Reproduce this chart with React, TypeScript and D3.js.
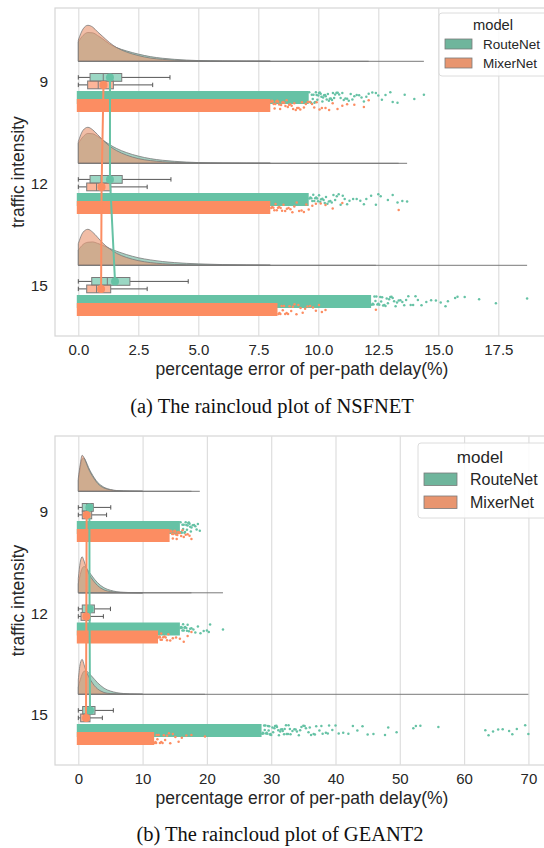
import React from "react";
import * as d3 from "d3";

// -- DATA --
const categories = ["9", "12", "15"];
const models = ["RouteNet", "MixerNet"];
const fullColors = ["#66c2a5", "#fc8d62"];
const softColors = ["#6fb59c", "#e8956f"];

// NSFNET
const nsfTicks = [0, 2.5, 5, 7.5, 10, 12.5, 15, 17.5];
const nsfGrid = [0, 0.2, 0.4, 0.6, 0.8, 1.0, 1.3, 1.6, 2.0, 2.5, 3.0, 3.5, 4.0, 5.0, 6.0, 7.0, 8.0];
const nsfCloudRoute = [
  [0.54, 0.72, 0.8, 0.79, 0.72, 0.63, 0.48, 0.38, 0.29, 0.2, 0.13, 0.085, 0.055, 0.02, 0.008, 0.002, 0],
  [0.55, 0.74, 0.83, 0.82, 0.75, 0.66, 0.52, 0.41, 0.3, 0.2, 0.13, 0.085, 0.055, 0.02, 0.008, 0.002, 0],
  [0.42, 0.58, 0.64, 0.65, 0.61, 0.56, 0.47, 0.39, 0.3, 0.21, 0.15, 0.105, 0.075, 0.04, 0.02, 0.01, 0],
];
const nsfCloudMixer = [
  [0.59, 0.9, 1.0, 0.95, 0.82, 0.7, 0.52, 0.38, 0.26, 0.16, 0.09, 0.055, 0.03, 0.01, 0.004, 0.001, 0],
  [0.6, 0.92, 1.0, 0.93, 0.8, 0.66, 0.48, 0.35, 0.23, 0.13, 0.075, 0.045, 0.025, 0.008, 0.003, 0.001, 0],
  [0.6, 0.92, 1.0, 0.92, 0.78, 0.63, 0.46, 0.33, 0.22, 0.13, 0.075, 0.045, 0.025, 0.008, 0.003, 0.001, 0],
];
// [min, q1, median, q3, max]
const nsfBoxRoute = [
  [0, 0.49, 1.04, 1.81, 3.82],
  [0, 0.49, 0.95, 1.83, 3.86],
  [0, 0.56, 1.21, 2.15, 4.58],
];
const nsfBoxMixer = [
  [0, 0.39, 0.83, 1.46, 3.1],
  [0, 0.35, 0.76, 1.35, 2.87],
  [0, 0.35, 0.76, 1.35, 2.87],
];
const nsfMeanRoute = [1.32, 1.32, 1.53];
const nsfMeanMixer = [1.05, 0.97, 0.95];
const nsfDenseRoute = [9.6, 9.6, 12.2];
const nsfDenseMixer = [8.0, 8.0, 8.3];
const nsfRainRoute = [
  [9.62, 9.66, 9.7, 9.73, 9.77, 9.8, 9.84, 9.87, 9.9, 9.93, 9.96, 10.0, 10.03, 10.06, 10.1, 10.13, 10.17, 10.2, 10.24, 10.28, 10.31, 10.35, 10.4, 10.44, 10.48, 10.52, 10.57, 10.61, 10.66, 10.7, 10.76, 10.81, 10.87, 10.93, 11.0, 11.06, 11.13, 11.2, 11.27, 11.35, 11.42, 11.5, 11.6, 11.7, 11.8, 11.9, 12.0, 12.1, 12.25, 12.4, 12.5, 12.65, 12.8, 13.0, 13.1, 13.3, 13.6, 14.0, 14.4],
  [9.63, 9.67, 9.71, 9.75, 9.79, 9.83, 9.87, 9.91, 9.95, 9.99, 10.03, 10.08, 10.12, 10.17, 10.22, 10.27, 10.32, 10.38, 10.44, 10.5, 10.56, 10.63, 10.7, 10.77, 10.85, 10.93, 11.02, 11.1, 11.2, 11.3, 11.45, 11.6, 11.75, 11.9, 12.0, 12.2, 12.4, 12.5, 12.6, 12.9, 13.1, 13.3, 13.5, 13.7],
  [12.23, 12.27, 12.3, 12.34, 12.38, 12.42, 12.46, 12.5, 12.54, 12.58, 12.62, 12.66, 12.7, 12.75, 12.8, 12.85, 12.9, 12.95, 13.0, 13.05, 13.1, 13.16, 13.22, 13.28, 13.35, 13.42, 13.5, 13.58, 13.66, 13.75, 13.85, 13.95, 14.05, 14.15, 14.3, 14.5, 14.7, 14.9, 15.1, 15.3, 15.4, 15.7, 15.8, 16.1, 16.7, 17.4, 18.7],
];
const nsfRainMixer = [
  [8.03, 8.07, 8.1, 8.14, 8.18, 8.21, 8.25, 8.29, 8.33, 8.37, 8.41, 8.45, 8.5, 8.54, 8.58, 8.63, 8.68, 8.73, 8.78, 8.83, 8.89, 8.95, 9.0, 9.06, 9.12, 9.18, 9.25, 9.32, 9.4, 9.48, 9.56, 9.65, 9.74, 9.83, 9.93, 10.05, 10.15, 10.3, 10.45, 10.6, 10.8, 11.0, 11.2, 11.5, 11.9, 12.1],
  [8.04, 8.08, 8.13, 8.17, 8.22, 8.27, 8.32, 8.37, 8.43, 8.49, 8.55, 8.62, 8.69, 8.76, 8.84, 8.92, 9.0, 9.1, 9.2, 9.3, 9.4, 9.5, 9.6, 9.75, 9.9, 10.1, 10.3, 10.6, 11.0, 13.35],
  [8.34, 8.38, 8.42, 8.47, 8.52, 8.57, 8.62, 8.68, 8.74, 8.8, 8.87, 8.94, 9.01, 9.09, 9.17, 9.26, 9.35, 9.45, 9.55, 9.66, 9.78, 9.9, 10.03, 10.15, 10.3, 12.4],
];

// GEANT2
const geaTicks = [0, 10, 20, 30, 40, 50, 60, 70];
const geaGrid = [0, 0.3, 0.6, 0.9, 1.2, 1.6, 2.0, 2.5, 3.0, 3.5, 4.0, 5.0, 6.0, 7.0, 8.0, 10.0];
const geaCloudRoute = [
  [0.3, 0.65, 0.9, 0.92, 0.83, 0.66, 0.52, 0.37, 0.25, 0.17, 0.11, 0.05, 0.02, 0.01, 0.004, 0],
  [0.25, 0.5, 0.68, 0.73, 0.7, 0.6, 0.5, 0.38, 0.28, 0.2, 0.14, 0.07, 0.03, 0.015, 0.006, 0],
  [0.2, 0.4, 0.56, 0.64, 0.65, 0.6, 0.52, 0.42, 0.32, 0.24, 0.17, 0.09, 0.045, 0.022, 0.01, 0],
];
const geaCloudMixer = [
  [0.36, 0.75, 1.0, 0.93, 0.8, 0.62, 0.48, 0.34, 0.22, 0.14, 0.09, 0.04, 0.015, 0.007, 0.003, 0],
  [0.4, 0.85, 1.0, 0.88, 0.72, 0.55, 0.42, 0.3, 0.2, 0.13, 0.08, 0.035, 0.013, 0.006, 0.002, 0],
  [0.4, 0.85, 0.97, 0.82, 0.65, 0.5, 0.37, 0.24, 0.15, 0.09, 0.05, 0.02, 0.008, 0.003, 0.001, 0],
];
const geaBoxRoute = [
  [0, 0.62, 1.3, 2.33, 5.05],
  [0, 0.62, 1.3, 2.5, 5.0],
  [0, 0.68, 1.3, 2.6, 5.45],
];
const geaBoxMixer = [
  [0, 0.62, 1.04, 2.08, 4.4],
  [0, 0.42, 1.04, 1.82, 3.9],
  [0, 0.37, 0.89, 1.82, 3.74],
];
const geaMeanRoute = [1.72, 1.75, 1.82];
const geaMeanMixer = [1.3, 1.25, 1.2];
const geaDenseRoute = [15.8, 15.8, 28.5];
const geaDenseMixer = [14.2, 12.4, 11.8];
const geaRainRoute = [
  [15.9, 16.0, 16.1, 16.2, 16.3, 16.4, 16.5, 16.6, 16.7, 16.8, 16.9, 17.0, 17.1, 17.2, 17.3, 17.4, 17.5, 17.6, 17.8, 18.0, 18.2, 18.4, 18.6, 18.9],
  [15.9, 16.0, 16.1, 16.2, 16.3, 16.4, 16.5, 16.6, 16.8, 16.9, 17.0, 17.2, 17.4, 17.6, 17.9, 18.2, 18.6, 19.0, 19.5, 20.0, 20.3, 20.5, 22.5],
  [28.6, 28.7, 28.8, 28.9, 29.0, 29.1, 29.2, 29.3, 29.4, 29.5, 29.6, 29.7, 29.8, 29.9, 30.0, 30.2, 30.3, 30.5, 30.6, 30.8, 30.9, 31.1, 31.2, 31.4, 31.5, 31.7, 31.8, 32.0, 32.1, 32.3, 32.4, 32.6, 32.7, 32.9, 33.0, 33.3, 33.6, 33.8, 34.0, 34.3, 34.5, 34.7, 35.0, 35.2, 35.4, 35.8, 36.0, 36.2, 36.6, 36.8, 37.0, 37.5, 37.8, 38.0, 38.5, 38.8, 39.0, 39.5, 40.0, 40.5, 41.2, 42.0, 42.7, 43.4, 44.2, 45.0, 45.9, 47.7, 48.2, 49.5, 52.1, 52.5, 53.2, 56.0, 63.3, 63.8, 64.5, 65.3, 66.0, 67.0, 67.5, 68.2, 69.5, 70.0],
];
const geaRainMixer = [
  [14.3, 14.4, 14.5, 14.6, 14.7, 14.8, 14.9, 15.0, 15.1, 15.2, 15.3, 15.4, 15.5, 15.6, 15.8, 16.0, 16.2, 16.4, 16.7, 17.0, 17.3, 17.6],
  [12.5, 12.6, 12.7, 12.8, 12.9, 13.0, 13.2, 13.4, 13.6, 13.8, 14.0, 14.3, 14.7, 15.2, 15.8, 16.4, 17.0, 17.6],
  [11.9, 12.0, 12.1, 12.2, 12.3, 12.5, 12.7, 12.9, 13.1, 13.3, 13.5, 13.8, 14.1, 14.3, 14.7, 15.1, 15.6, 16.1, 16.8, 17.6, 19.7],
];

const SANS = "'Liberation Sans', Arial, sans-serif";
const SERIF = "'Liberation Serif', 'Times New Roman', serif";

const panels = [
  {
    top: 8, bottom: 336, ticks: nsfTicks, tickMax: 17.5, xAtMax: 498.3, fmt: d3.format(".1f"),
    rows: [82, 286], grid: nsfGrid,
    cloud: [nsfCloudRoute, nsfCloudMixer], box: [nsfBoxRoute, nsfBoxMixer],
    mean: [nsfMeanRoute, nsfMeanMixer], dense: [nsfDenseRoute, nsfDenseMixer],
    rain: [nsfRainRoute, nsfRainMixer],
    legend: { x: 439, y: 13, h: 63, titleY: 25, titleSize: 14.7, size: 13.5, px: 445, pw: 27, ph: 10, ys: [39, 58], lx: 483 },
    caption: "(a) The raincloud plot of NSFNET", capX: 272, capY: 413,
  },
  {
    top: 436, bottom: 765, ticks: geaTicks, tickMax: 70, xAtMax: 528.4, fmt: d3.format("d"),
    rows: [512, 715], grid: geaGrid,
    cloud: [geaCloudRoute, geaCloudMixer], box: [geaBoxRoute, geaBoxMixer],
    mean: [geaMeanRoute, geaMeanMixer], dense: [geaDenseRoute, geaDenseMixer],
    rain: [geaRainRoute, geaRainMixer],
    legend: { x: 418, y: 443, h: 75, titleY: 457, titleSize: 17, size: 16, px: 424, pw: 33, ph: 12.5, ys: [473, 496], lx: 470 },
    caption: "(b) The raincloud plot of GEANT2", capX: 280, capY: 841,
  },
];

// scatter points vertically inside the strip (no randomness, just a spread)
const spread = (k, s) => (((k * k * 31 + k * 17 + s * 7) % 53) / 52);

const drawPanel = (svg, p) => {
  const left = 55;
  const x = d3.scaleLinear().domain([0, p.tickMax]).range([78.3, p.xAtMax]);
  const y = d3.scalePoint().domain(categories).range(p.rows);
  const g = svg.append("g");

  // frame
  g.append("rect")
    .attr("x", left).attr("y", p.top)
    .attr("width", 600 - left).attr("height", p.bottom - p.top)
    .attr("fill", "white").attr("stroke", "#d6d6d6").attr("stroke-width", 1.2);

  // x axis + grid
  const xAxis = g.append("g")
    .attr("transform", `translate(0,${p.bottom})`)
    .call(d3.axisBottom(x).tickValues(p.ticks).tickFormat(p.fmt)
      .tickSize(-(p.bottom - p.top)).tickPadding(8.5));
  xAxis.select(".domain").remove();
  xAxis.selectAll("line").attr("stroke", "#dedede").attr("stroke-width", 1.2);
  xAxis.selectAll("text").attr("fill", "#262626").style("font-size", "15px").style("font-family", SANS);

  // y axis
  const yAxis = g.append("g")
    .attr("transform", `translate(${left},0)`)
    .call(d3.axisLeft(y).tickSize(0).tickPadding(7));
  yAxis.select(".domain").remove();
  yAxis.selectAll("text").attr("fill", "#262626").style("font-size", "15.5px").style("font-family", SANS);

  // labels
  g.append("text")
    .attr("x", 302).attr("y", p.bottom + 39)
    .attr("text-anchor", "middle").attr("fill", "#262626")
    .style("font-size", "17.5px").style("font-family", SANS)
    .text("percentage error of per-path delay(%)");
  g.append("text")
    .attr("transform", `translate(24,${(p.top + p.bottom) / 2}) rotate(-90)`)
    .attr("text-anchor", "middle").attr("fill", "#262626")
    .style("font-size", "17.5px").style("font-family", SANS)
    .text("traffic intensity");

  // clouds (half violins)
  const cloudH = 36;
  categories.forEach((c, i) => {
    const base = y(c) - 20.7;
    [0, 1].forEach((m) => {
      const dens = p.cloud[m][i];
      const pts = p.grid.map((v, j) => [v, dens[j]]);
      const area = d3.area()
        .x((d) => x(d[0]))
        .y0(base)
        .y1((d) => base - d[1] * cloudH)
        .curve(d3.curveMonotoneX);
      g.append("path")
        .attr("d", area(pts))
        .attr("fill", softColors[m]).attr("fill-opacity", 0.62)
        .attr("stroke", "#7a7a7a").attr("stroke-width", 0.8);
      const maxV = d3.max(p.rain[m][i]);
      g.append("line")
        .attr("x1", x(0)).attr("x2", x(maxV))
        .attr("y1", base).attr("y2", base)
        .attr("stroke", "#7a7a7a").attr("stroke-width", 1);
    });
  });

  // boxes
  const boxTop = [-8.5, -1];
  const boxH = 7.8;
  categories.forEach((c, i) => {
    [0, 1].forEach((m) => {
      const [lo, q1, med, q3, hi] = p.box[m][i];
      const y0 = y(c) + boxTop[m];
      const cy = y0 + boxH / 2;
      const wg = g.append("g").attr("stroke", "#555").attr("stroke-width", 1);
      wg.append("line").attr("x1", x(lo)).attr("x2", x(q1)).attr("y1", cy).attr("y2", cy);
      wg.append("line").attr("x1", x(q3)).attr("x2", x(hi)).attr("y1", cy).attr("y2", cy);
      wg.append("line").attr("x1", x(lo)).attr("x2", x(lo)).attr("y1", cy - 2.2).attr("y2", cy + 2.2);
      wg.append("line").attr("x1", x(hi)).attr("x2", x(hi)).attr("y1", cy - 2.2).attr("y2", cy + 2.2);
      g.append("rect")
        .attr("x", x(q1)).attr("y", y0)
        .attr("width", x(q3) - x(q1)).attr("height", boxH)
        .attr("fill", fullColors[m]).attr("fill-opacity", 0.65)
        .attr("stroke", "#7a7a7a").attr("stroke-width", 1);
      g.append("line")
        .attr("x1", x(med)).attr("x2", x(med))
        .attr("y1", y0).attr("y2", y0 + boxH)
        .attr("stroke", "#7a7a7a").attr("stroke-width", 1);
    });
  });

  // rain (dense part as band, sparse tail as points)
  const rainTop = [9, 17];
  const rainH = 13;
  categories.forEach((c, i) => {
    [0, 1].forEach((m) => {
      const top = y(c) + rainTop[m];
      g.append("rect")
        .attr("x", x(0) - 1.5).attr("y", top)
        .attr("width", x(p.dense[m][i]) - x(0) + 1.5).attr("height", rainH)
        .attr("fill", fullColors[m]);
      g.selectAll(null)
        .data(p.rain[m][i])
        .enter()
        .append("circle")
        .attr("cx", (d) => x(d))
        .attr("cy", (d, k) => top + 1.3 + spread(k, i * 3 + m) * (rainH - 2.6))
        .attr("r", 1.25)
        .attr("fill", fullColors[m]);
    });
  });

  // means (pointplot)
  [0, 1].forEach((m) => {
    const pts = categories.map((c, i) => [x(p.mean[m][i]), y(c) + boxTop[m] + boxH / 2]);
    g.append("path")
      .attr("d", d3.line()(pts))
      .attr("fill", "none").attr("stroke", fullColors[m]).attr("stroke-width", 2);
    g.selectAll(null)
      .data(pts)
      .enter()
      .append("circle")
      .attr("cx", (d) => d[0]).attr("cy", (d) => d[1])
      .attr("r", 4).attr("fill", fullColors[m]);
  });

  // legend
  const L = p.legend;
  const lg = g.append("g");
  lg.append("rect")
    .attr("x", L.x).attr("y", L.y).attr("width", 140).attr("height", L.h).attr("rx", 3)
    .attr("fill", "white").attr("fill-opacity", 0.85).attr("stroke", "#dcdcdc");
  lg.append("text")
    .attr("x", L.lx + 10).attr("y", L.titleY).attr("dominant-baseline", "central")
    .attr("text-anchor", "middle").attr("fill", "#262626")
    .style("font-size", `${L.titleSize}px`).style("font-family", SANS)
    .text("model");
  models.forEach((name, m) => {
    lg.append("rect")
      .attr("x", L.px).attr("y", L.ys[m]).attr("width", L.pw).attr("height", L.ph)
      .attr("fill", softColors[m]).attr("stroke", "#7a7a7a").attr("stroke-width", 0.8);
    lg.append("text")
      .attr("x", L.lx).attr("y", L.ys[m] + L.ph / 2).attr("dominant-baseline", "central")
      .attr("fill", "#262626")
      .style("font-size", `${L.size}px`).style("font-family", SANS)
      .text(name);
  });

  // caption
  g.append("text")
    .attr("x", p.capX).attr("y", p.capY)
    .attr("text-anchor", "middle").attr("fill", "#111")
    .style("font-size", "20.5px").style("font-family", SERIF)
    .text(p.caption);
};

const App = () => {
  const svgRef = React.useRef(null);

  React.useEffect(() => {
    const svg = d3.select(svgRef.current);
    svg.selectAll("*").remove();
    svg.append("rect").attr("width", 544).attr("height", 848).attr("fill", "white");
    panels.forEach((p) => drawPanel(svg, p));
  }, []);

  return (
    <svg
      ref={svgRef}
      width={544}
      height={848}
      style={{ position: "absolute", left: 0, top: 0, display: "block" }}
    />
  );
};

export default App;
